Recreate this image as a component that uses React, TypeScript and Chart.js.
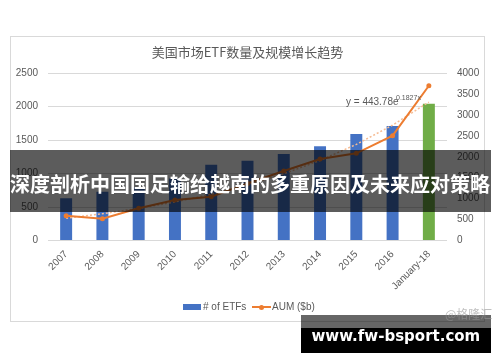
import React, { useEffect, useRef } from "react";
import { Chart, registerables } from "chart.js";

Chart.register(...registerables);

const categories = ["2007", "2008", "2009", "2010", "2011", "2012", "2013", "2014", "2015", "2016", "January-18"];
const etfCounts = [629, 728, 795, 925, 1130, 1190, 1290, 1405, 1590, 1710, 2040];
const aumValues = [592, 520, 769, 967, 1046, 1360, 1660, 1946, 2082, 2503, 3695];
const trendValues = [533, 639, 767, 921, 1105, 1327, 1593, 1912, 2295, 2755, 3307];
const leftTickMax = 2500;
const rightTickMax = 4000;
const tickStep = 500;

const title = "美国市场ETF数量及规模增长趋势";
const barLabel = "# of ETFs";
const lineLabel = "AUM ($b)";
const equationMain = "y = 443.78e";
const equationExp = "0.1827x";
const bannerText = "深度剖析中国国足输给越南的多重原因及未来应对策略";
const siteText = "www.fw-bsport.com";
const sourceText = "@格隆汇";

const BLUE = "#4472c4";
const GREEN = "#70ad47";
const ORANGE = "#ed7d31";
const TEXT = "#595959";
const GRID = "#d9d9d9";

export default function App() {
  const canvasRef = useRef<HTMLCanvasElement | null>(null);

  useEffect(() => {
    if (!canvasRef.current) return;
    const barColors = categories.map((c, i) => (i === categories.length - 1 ? GREEN : BLUE));
    const plain = (v: any) => String(v);
    const chart = new Chart(canvasRef.current, {
      type: "bar",
      data: {
        labels: categories,
        datasets: [
          {
            type: "line",
            label: lineLabel,
            data: aumValues,
            yAxisID: "y1",
            borderColor: ORANGE,
            backgroundColor: ORANGE,
            borderWidth: 2,
            pointRadius: 2.5,
            pointBackgroundColor: ORANGE,
            pointBorderWidth: 0,
            order: 1,
          } as any,
          {
            type: "line",
            label: "trend",
            data: trendValues,
            yAxisID: "y1",
            borderColor: "#f6bc94",
            borderWidth: 1.5,
            borderDash: [2, 2],
            pointRadius: 0,
            order: 2,
          } as any,
          {
            type: "bar",
            label: barLabel,
            data: etfCounts,
            yAxisID: "y",
            backgroundColor: barColors,
            categoryPercentage: 1,
            barPercentage: 0.33,
            order: 3,
          } as any,
        ],
      },
      options: {
        responsive: false,
        animation: false,
        layout: { padding: { top: 73, left: 0, right: 0, bottom: 0 } },
        plugins: {
          legend: { display: false },
          title: { display: false },
          tooltip: { enabled: false },
        },
        scales: {
          x: {
            grid: { display: false, drawTicks: false },
            border: { display: false },
            ticks: {
              minRotation: 45,
              maxRotation: 45,
              padding: 8,
              color: TEXT,
              font: { family: "Liberation Sans", size: 10 },
              autoSkip: false,
            },
            afterFit: (s: any) => {
              s.height = 121.5;
            },
          },
          y: {
            position: "left",
            min: 0,
            max: leftTickMax,
            grid: { color: GRID, lineWidth: 1, drawTicks: false },
            border: { display: false },
            ticks: {
              stepSize: tickStep,
              padding: 10,
              color: TEXT,
              font: { family: "Liberation Sans", size: 10 },
              callback: plain,
            },
            afterFit: (s: any) => {
              s.width = 48;
            },
          },
          y1: {
            position: "right",
            min: 0,
            max: rightTickMax,
            grid: { display: false, drawTicks: false },
            border: { display: false },
            ticks: {
              stepSize: tickStep,
              padding: 10,
              color: TEXT,
              font: { family: "Liberation Sans", size: 10 },
              callback: plain,
            },
            afterFit: (s: any) => {
              s.width = 53;
            },
          },
        },
      },
    });
    return () => chart.destroy();
  }, []);

  const abs = (o: React.CSSProperties): React.CSSProperties => ({ position: "absolute", ...o });

  return (
    <div style={{ position: "absolute", left: 0, top: 0, width: 500, height: 362, background: "#fff", overflow: "hidden" }}>
      <div style={abs({ left: 10, top: 36, width: 473, height: 284, border: `1px solid ${GRID}` })} />
      <canvas ref={canvasRef} width={500} height={362} style={abs({ left: 0, top: 0, width: 500, height: 362 })} />
      <div
        style={abs({
          left: 0,
          width: 495,
          top: 44,
          lineHeight: "16px",
          textAlign: "center",
          fontFamily: "'Noto Sans CJK SC', 'Liberation Sans'",
          fontSize: 13,
          color: TEXT,
          whiteSpace: "nowrap",
        })}
      >
        {title}
      </div>
      <div style={abs({ left: 346, top: 97, lineHeight: "10px", fontFamily: "'Liberation Sans'", fontSize: 10, color: TEXT, whiteSpace: "nowrap" })}>
        {equationMain}
      </div>
      <div style={abs({ left: 396, top: 94, lineHeight: "7px", fontFamily: "'Liberation Sans'", fontSize: 7, color: TEXT, whiteSpace: "nowrap" })}>
        {equationExp}
      </div>
      {/* legend */}
      <div style={abs({ left: 183, top: 304, width: 18, height: 6, background: BLUE })} />
      <div style={abs({ left: 203, top: 301, lineHeight: "12px", fontFamily: "'Liberation Sans'", fontSize: 10, color: TEXT, whiteSpace: "nowrap" })}>
        {barLabel}
      </div>
      <div style={abs({ left: 252, top: 306, width: 19, height: 2, background: ORANGE })} />
      <div style={abs({ left: 258.5, top: 304.5, width: 5, height: 5, borderRadius: "50%", background: ORANGE })} />
      <div style={abs({ left: 272, top: 301, lineHeight: "12px", fontFamily: "'Liberation Sans'", fontSize: 10, color: TEXT, whiteSpace: "nowrap" })}>
        {lineLabel}
      </div>
      {/* banner overlay */}
      <div style={abs({ left: 10, top: 150, width: 481, height: 62, background: "rgba(0,0,0,0.64)" })} />
      <div
        style={abs({
          left: 10,
          top: 173,
          lineHeight: "22px",
          fontFamily: "'Noto Sans CJK SC'",
          fontWeight: 700,
          fontSize: 20,
          color: "#fff",
          whiteSpace: "nowrap",
        })}
      >
        {bannerText}
      </div>
      {/* site watermark */}
      <div style={abs({ left: 301, top: 315, width: 190, height: 13, background: "rgba(0,0,0,0.6)" })} />
      <div style={abs({ left: 301, top: 328, width: 190, height: 25, background: "#000" })} />
      <div
        style={abs({
          left: 445,
          top: 306,
          lineHeight: "15px",
          fontFamily: "'Noto Sans CJK SC'",
          fontSize: 12,
          color: "rgba(150,150,150,0.6)",
          whiteSpace: "nowrap",
        })}
      >
        {sourceText}
      </div>
      <div
        style={abs({
          left: 311.5,
          top: 328.5,
          lineHeight: "15px",
          fontFamily: "'DejaVu Sans'",
          fontWeight: 700,
          fontSize: 15,
          color: "#fff",
          whiteSpace: "nowrap",
        })}
      >
        {siteText}
      </div>
    </div>
  );
}
